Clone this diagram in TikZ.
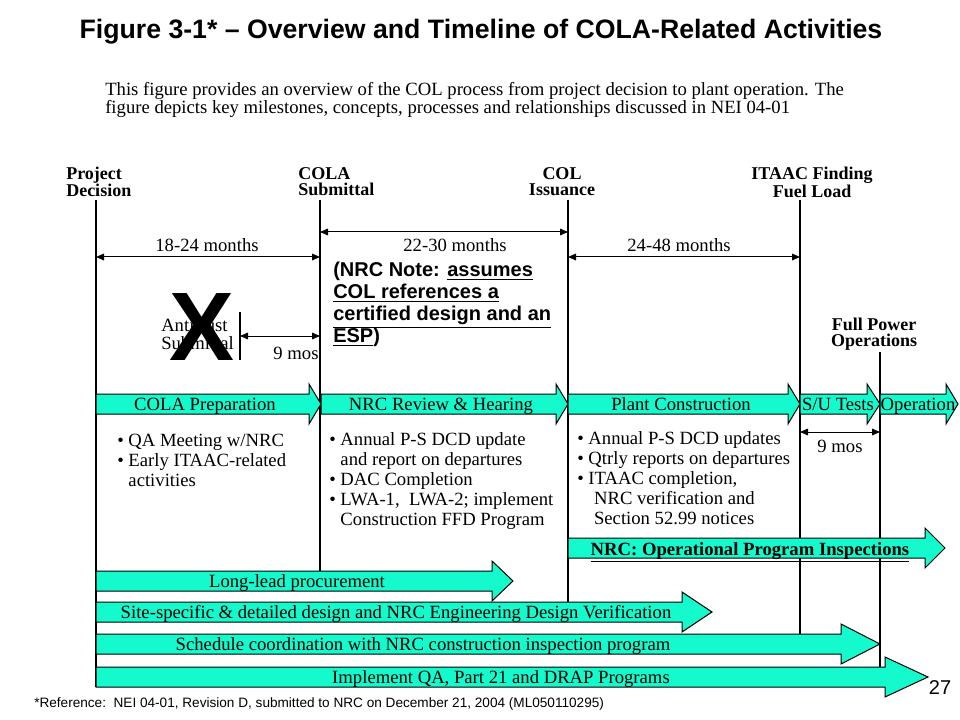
\documentclass[tikz,border=0pt]{standalone}
\usepackage{fontspec}
\setmainfont{Liberation Serif}
\newfontfamily\arialf{Liberation Sans}
\usetikzlibrary{arrows.meta}
\definecolor{arrteal}{RGB}{20,250,205}
\newcommand\blockarr[4]{% left, headstart, tip, cy
  \draw[blockarrow] ({#1},{#4-10}) -- ({#2},{#4-10}) -- ({#2},{#4-20}) -- ({#3},{#4}) -- ({#2},{#4+20}) -- ({#2},{#4+10}) -- ({#1},{#4+10}) -- cycle;}
\tikzset{
  vline/.style={draw=black, line width=0.8pt},
  dim/.style={draw=black, line width=0.75pt, {Triangle[length=6pt,width=5pt]}-{Triangle[length=6pt,width=5pt]}},
  blockarrow/.style={fill=arrteal, draw=black, line width=0.75pt},
  hdr/.style={font=\bfseries\fontsize{13.5}{12}\selectfont, inner sep=0pt},
  lbl/.style={font=\fontsize{14}{14}\selectfont, inner sep=0pt, text height=12pt, text depth=3pt},
  bul/.style={font=\fontsize{14}{15}\selectfont, inner sep=0pt, align=left, anchor=north west},
  titlesty/.style={font=\arialf\bfseries\fontsize{20}{20}\selectfont, inner sep=0pt},
  parasty/.style={font=\fontsize{14}{10.5}\selectfont, inner sep=0pt, align=left, anchor=north west},
  notesty/.style={font=\arialf\bfseries\fontsize{15}{16.5}\selectfont, inner sep=0pt, align=left, anchor=north west},
}
\begin{document}
\begin{tikzpicture}[x=0.75pt, y=-0.75pt]
\useasboundingbox (0,0) rectangle (960,720);
\fill[white] (0,0) rectangle (960,720);

% title and paragraph
\node[titlesty] (title) at (481,32) {Figure 3-1* – Overview and Timeline of COLA-Related Activities};
\node[parasty] (para) at (105,82) {This figure provides an overview of the COL process from project decision to plant operation. The\\figure depicts key milestones, concepts, processes and relationships discussed in NEI 04-01};

% milestone headers
\node[hdr, align=left, anchor=west] (pd) at (66,182) {Project\\Decision};
\node[hdr, align=left, anchor=west] (cs) at (298,182) {COLA\\Submittal};
\node[hdr, align=center] (ci) at (562,182) {COL\\Issuance};
\node[hdr, align=center] (itaac) at (812,182) {ITAAC Finding\\Fuel Load};
\node[hdr, align=center] (fpo) at (874,334) {Full Power\\Operations};

% vertical milestone lines
\coordinate (l1t) at (96,200);  \coordinate (l1b) at (96,687);
\coordinate (l2t) at (320,200); \coordinate (l2b) at (320,571);
\coordinate (l3t) at (568,200); \coordinate (l3b) at (568,602);
\coordinate (l4t) at (800,200); \coordinate (l4b) at (800,634);
\coordinate (l5t) at (880,352); \coordinate (l5b) at (880,667);
\draw[vline] (l1t) -- (l1b);
\draw[vline] (l2t) -- (l2b);
\draw[vline] (l3t) -- (l3b);
\draw[vline] (l4t) -- (l4b);
\draw[vline] (l5t) -- (l5b);

% duration arrows
\coordinate (d1a) at (96,257);  \coordinate (d1b) at (320,257);
\coordinate (d2a) at (320,232); \coordinate (d2b) at (568,232);
\coordinate (d3a) at (568,257); \coordinate (d3b) at (800,257);
\draw[dim] (d1a) -- (d1b);
\draw[dim] (d2a) -- (d2b);
\draw[dim] (d3a) -- (d3b);
\node[lbl] (m1) at (207,246) {18-24 months};
\node[lbl] (m2) at (455,246) {22-30 months};
\node[lbl] (m3) at (679,246) {24-48 months};

% antitrust
\node[inner sep=0pt, align=left, anchor=west, font=\fontsize{14}{13.5}\selectfont] (anti) at (161,334) {Antitrust\\Submittal};
\node[font=\arialf\bfseries\fontsize{73}{73}\selectfont, inner sep=0pt] (bigx) at (202,327) {X};
\coordinate (t1) at (240,312); \coordinate (t2) at (240,360);
\draw[vline] (t1) -- (t2);
\coordinate (a9a) at (240,336); \coordinate (a9b) at (320,336);
\draw[dim] (a9a) -- (a9b);
\node[lbl] (mos1) at (296,353) {9 mos};

% NRC note
\node[notesty] (note) at (333,262) {(NRC Note: \underline{assumes}\\\underline{COL references a}\\\underline{certified design and an}\\\underline{ESP})};

% phase arrows
\blockarr{96}{309}{321}{404}
\blockarr{321}{556}{568}{404}
\blockarr{568}{788}{800}{404}
\blockarr{800}{867}{880}{404}
\blockarr{880}{946}{958}{404}
\node[lbl] (p1) at (205,404) {COLA Preparation};
\node[lbl] (p2) at (441,404) {NRC Review \& Hearing};
\node[lbl] (p3) at (681,404) {Plant Construction};
\node[lbl] (p4) at (838,404) {S/U Tests};
\node[lbl] (p5) at (918,404) {Operation};

% bullets
\node[bul] (b1) at (117,434) {\textbullet\ QA Meeting w/NRC\\\textbullet\ Early ITAAC-related\\\hspace*{0.6em}activities};
\node[bul] (b2) at (329,432) {\textbullet\ Annual P-S DCD update\\\hspace*{0.6em}and report on departures\\\textbullet\ DAC Completion\\\textbullet\ LWA-1,\ \ LWA-2; implement\\\hspace*{0.6em}Construction FFD Program};
\node[bul] (b3) at (577,431) {\textbullet\ Annual P-S DCD updates\\\textbullet\ Qtrly reports on departures\\\textbullet\ ITAAC completion,\\\hspace*{0.9em}NRC verification and\\\hspace*{0.9em}Section 52.99 notices};

% S/U 9 mos
\coordinate (s9a) at (800,432); \coordinate (s9b) at (880,432);
\draw[dim] (s9a) -- (s9b);
\node[lbl] (mos2) at (840,446) {9 mos};

% lower arrows
\blockarr{568}{925}{945}{548}
\node[lbl, font=\bfseries\fontsize{14}{14}\selectfont] (ops) at (750,549) {\underline{NRC: Operational Program Inspections}};
\blockarr{96}{492}{513}{581}
\node[lbl] (llp) at (297,581) {Long-lead procurement};
\blockarr{96}{682}{712}{612}
\node[lbl] (ssd) at (396,612) {Site-specific \& detailed design and NRC Engineering Design Verification};
\blockarr{96}{841}{880}{644}
\node[lbl] (sch) at (423,644) {Schedule coordination with NRC construction inspection program};
\blockarr{96}{885}{928}{677}
\node[lbl] (iqa) at (501,677) {Implement QA, Part 21 and DRAP Programs};

% footnote and page number
\node[font=\arialf\fontsize{10.2}{10.2}\selectfont, inner sep=0pt, anchor=west] (fn) at (34,704) {*Reference:\ \ NEI 04-01, Revision D, submitted to NRC on December 21, 2004 (ML050110295)};
\node[font=\arialf\fontsize{15}{15}\selectfont, inner sep=0pt] (pg) at (940,688) {27};
\end{tikzpicture}
\end{document}
